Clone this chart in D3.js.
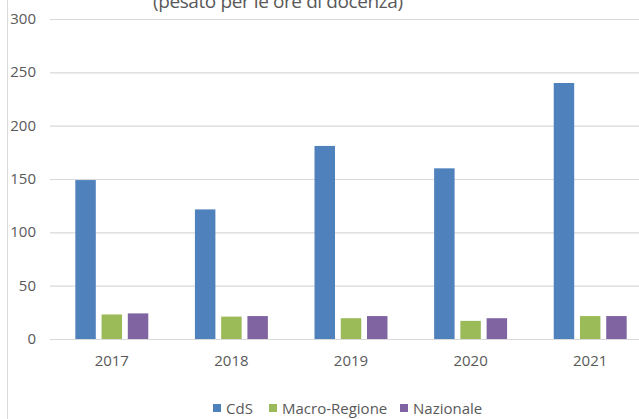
<!DOCTYPE html>
<html>
<head>
<meta charset="utf-8">
<script src="https://cdn.jsdelivr.net/npm/d3@7"></script>
<style>
  body { margin: 0; background: #fff; }
  svg text { font-family: "Open Sans", "Noto Sans", sans-serif; fill: #595959; }
</style>
</head>
<body>
<div class="chart"></div>
<script>
// data
var years = ["2017", "2018", "2019", "2020", "2021"];
var seriesNames = ["CdS", "Macro-Regione", "Nazionale"];
var cds = [149, 121.5, 181, 160, 240];
var macro = [23, 21, 19.5, 17, 21.5];
var nazionale = [24, 21.5, 21.5, 19.5, 21.5];
var yTicks = [0, 50, 100, 150, 200, 250, 300];
var colors = ["#4F81BD", "#9BBB59", "#8064A2"];

var width = 639, height = 419;

var data = years.map(function (y, i) {
  return { year: y, values: [cds[i], macro[i], nazionale[i]] };
});

const svg = d3
  .select(".chart")
  .append("svg")
  .attr("width", width)
  .attr("height", height);

// chart border on the left
svg.append("line")
  .attr("x1", 7.5).attr("x2", 7.5)
  .attr("y1", 0).attr("y2", height)
  .attr("stroke", "#D9D9D9");

// title, cut by the top of the picture
svg.append("text")
  .attr("x", 278)
  .attr("y", 8)
  .attr("text-anchor", "middle")
  .style("font-size", "19px")
  .attr("textLength", 250)
  .text("(pesato per le ore di docenza)");

var x0 = d3.scaleBand()
  .domain(years)
  .range([52, 650])
  .paddingInner(0.39)
  .paddingOuter(0.195);

var x1 = d3.scaleBand()
  .domain(seriesNames)
  .range([0, x0.bandwidth()])
  .paddingInner(0.22);

var y = d3.scaleLinear().domain([0, 300]).range([339, 19]);

// gridlines
svg.selectAll(".grid")
  .data(yTicks)
  .enter()
  .append("line")
  .attr("x1", 50)
  .attr("x2", 650)
  .attr("y1", (d) => y(d) + 0.5)
  .attr("y2", (d) => y(d) + 0.5)
  .attr("stroke", "#D9D9D9")
  .attr("stroke-width", 1.2);

// y tick labels
svg.selectAll(".ylab")
  .data(yTicks)
  .enter()
  .append("text")
  .attr("x", 36)
  .attr("y", (d) => y(d) + 5)
  .attr("text-anchor", "end")
  .style("font-size", "15px")
  .text((d) => d);

// bars
var groups = svg.selectAll(".grp")
  .data(data)
  .enter()
  .append("g")
  .attr("transform", (d) => "translate(" + x0(d.year) + ",0)");

groups.selectAll("rect")
  .data((d) => d.values.map((v, i) => ({ name: seriesNames[i], value: v, i: i })))
  .enter()
  .append("rect")
  .attr("x", (d) => x1(d.name))
  .attr("width", x1.bandwidth())
  .attr("y", (d) => y(d.value))
  .attr("height", (d) => y(0) - y(d.value))
  .style("fill", (d) => colors[d.i]);

// x labels
svg.selectAll(".xlab")
  .data(years)
  .enter()
  .append("text")
  .attr("x", (d) => x0(d) + x0.bandwidth() / 2)
  .attr("y", 366)
  .attr("text-anchor", "middle")
  .style("font-size", "15px")
  .text((d) => d);

// legend
var legendX = [213, 269, 400];
var legend = svg.selectAll(".leg")
  .data(seriesNames)
  .enter()
  .append("g")
  .attr("transform", (d, i) => "translate(" + legendX[i] + ",0)");

legend.append("rect")
  .attr("x", 0)
  .attr("y", 404)
  .attr("width", 8)
  .attr("height", 8)
  .style("fill", (d, i) => colors[i]);

legend.append("text")
  .attr("x", 13)
  .attr("y", 414)
  .style("font-size", "15px")
  .text((d) => d);
</script>
</body>
</html>
